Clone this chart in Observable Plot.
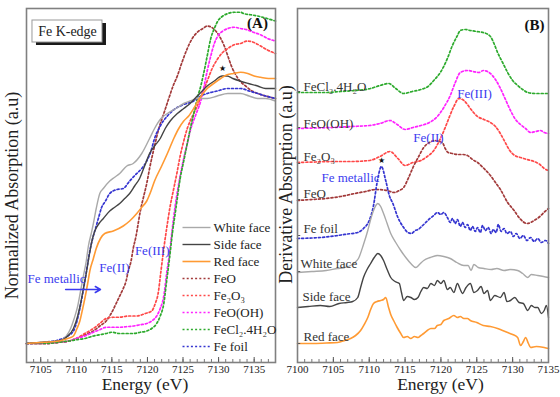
<!DOCTYPE html>
<html><head><meta charset="utf-8">
<script src="https://cdn.jsdelivr.net/npm/d3@7"></script>
<script src="https://cdn.jsdelivr.net/npm/@observablehq/plot@0.6"></script>
<style>
body{margin:0;background:#fff;}
#wrap{display:flex;width:560px;height:397px;}
#wrap svg{overflow:visible;}
#wrap svg, #wrap svg text, #wrap svg g{font-family:"Liberation Serif", "Times New Roman", serif !important;}
</style></head><body><div id="wrap"></div>
<script>
// ---------- Panel A : normalized XANES ----------
const whiteFaceA = [[7103.0,0.00],[7105.5,0.005],[7107.6,0.01],[7108.6,0.03],[7109.2,0.06],[7109.7,0.10],[7110.2,0.15],[7110.6,0.21],[7111.0,0.27],[7111.4,0.33],[7111.7,0.39],[7112.1,0.44],[7112.4,0.48],[7112.8,0.54],[7113.3,0.60],[7113.8,0.62],[7114.7,0.65],[7115.4,0.665],[7116.1,0.68],[7117.1,0.71],[7118.0,0.72],[7119.2,0.76],[7120.3,0.82],[7121.0,0.86],[7121.9,0.90],[7122.8,0.92],[7124.0,0.94],[7125.1,0.96],[7126.0,0.97],[7127.0,0.98],[7128.4,0.98],[7129.8,0.99],[7131.3,1.00],[7133.1,1.00],[7134.3,0.99],[7135.5,0.98],[7136.6,0.98],[7138.0,0.97]];
const sideFaceA = [[7103.0,0.00],[7105.5,0.005],[7107.6,0.01],[7108.8,0.03],[7109.6,0.06],[7110.2,0.11],[7110.6,0.16],[7111.0,0.22],[7111.4,0.28],[7111.8,0.35],[7112.2,0.41],[7112.6,0.45],[7113.2,0.48],[7113.8,0.50],[7114.7,0.53],[7115.4,0.545],[7116.1,0.56],[7116.8,0.58],[7117.5,0.60],[7118.2,0.63],[7118.9,0.66],[7119.6,0.71],[7120.3,0.76],[7121.0,0.79],[7121.8,0.82],[7122.5,0.86],[7123.2,0.89],[7124.2,0.92],[7125.1,0.94],[7126.0,0.96],[7127.0,0.99],[7127.7,1.01],[7128.4,1.03],[7129.4,1.05],[7130.5,1.07],[7131.2,1.07],[7132.0,1.06],[7133.0,1.05],[7134.2,1.04],[7135.5,1.03],[7136.6,1.02],[7138.0,1.02]];
const redFaceA = [[7103.0,0.00],[7105.5,0.005],[7107.6,0.01],[7108.8,0.02],[7109.6,0.03],[7110.1,0.06],[7110.5,0.09],[7110.9,0.14],[7111.2,0.18],[7111.6,0.24],[7111.9,0.29],[7112.4,0.34],[7112.8,0.38],[7113.4,0.42],[7114.0,0.44],[7115.2,0.45],[7116.6,0.47],[7117.5,0.49],[7118.5,0.52],[7119.2,0.545],[7119.9,0.57],[7120.5,0.61],[7121.0,0.65],[7122.0,0.71],[7122.8,0.76],[7123.7,0.82],[7124.4,0.86],[7125.1,0.89],[7125.8,0.91],[7126.5,0.94],[7127.3,0.98],[7128.4,1.02],[7129.3,1.04],[7130.3,1.06],[7131.2,1.075],[7132.1,1.08],[7133.1,1.085],[7134.1,1.08],[7135.0,1.07],[7135.9,1.065],[7137.0,1.06],[7138.0,1.06]];
const feoA = [[7103.0,0.00],[7105.5,0.00],[7107.6,0.005],[7109.0,0.01],[7110.0,0.02],[7111.2,0.035],[7112.4,0.05],[7113.3,0.07],[7114.2,0.09],[7114.9,0.12],[7115.6,0.16],[7116.1,0.19],[7116.6,0.22],[7117.0,0.25],[7117.3,0.29],[7117.7,0.33],[7118.0,0.38],[7118.4,0.43],[7118.7,0.48],[7119.0,0.53],[7119.4,0.58],[7119.9,0.64],[7120.3,0.70],[7121.0,0.79],[7121.6,0.86],[7122.3,0.92],[7123.0,0.98],[7123.6,1.03],[7124.2,1.07],[7124.8,1.12],[7125.6,1.18],[7126.3,1.22],[7127.0,1.245],[7127.8,1.26],[7128.4,1.27],[7129.0,1.265],[7129.6,1.25],[7130.3,1.22],[7130.8,1.19],[7131.3,1.15],[7131.8,1.11],[7132.3,1.08],[7133.0,1.05],[7133.8,1.03],[7134.7,1.01],[7135.5,1.00],[7136.6,0.99],[7138.0,0.98]];
const fe2o3A = [[7103.0,0.00],[7105.5,0.00],[7107.6,0.005],[7109.0,0.01],[7110.0,0.02],[7111.2,0.04],[7112.4,0.06],[7113.3,0.08],[7114.2,0.10],[7115.2,0.105],[7116.1,0.105],[7117.3,0.11],[7118.5,0.11],[7119.7,0.12],[7120.6,0.13],[7121.1,0.16],[7121.5,0.20],[7121.9,0.29],[7122.3,0.38],[7122.7,0.46],[7123.2,0.55],[7123.7,0.62],[7124.2,0.69],[7124.6,0.75],[7125.1,0.81],[7125.6,0.86],[7126.0,0.89],[7126.5,0.92],[7127.0,0.95],[7127.7,1.00],[7128.4,1.05],[7129.1,1.10],[7129.9,1.14],[7130.6,1.165],[7131.3,1.18],[7132.2,1.195],[7133.1,1.20],[7134.0,1.21],[7134.9,1.205],[7135.9,1.19],[7136.8,1.175],[7138.0,1.16]];
const feoohA = [[7103.0,0.00],[7105.5,0.00],[7107.6,0.005],[7109.0,0.01],[7110.0,0.02],[7111.2,0.03],[7112.4,0.045],[7113.3,0.055],[7114.2,0.065],[7115.2,0.065],[7116.1,0.065],[7117.0,0.067],[7118.0,0.07],[7119.0,0.075],[7119.9,0.08],[7120.6,0.09],[7121.3,0.11],[7121.8,0.14],[7122.3,0.19],[7122.7,0.28],[7123.1,0.36],[7123.5,0.46],[7123.9,0.55],[7124.6,0.67],[7125.1,0.74],[7125.6,0.80],[7126.1,0.86],[7126.6,0.90],[7127.0,0.93],[7127.5,0.97],[7127.9,1.02],[7128.4,1.09],[7128.9,1.15],[7129.4,1.20],[7129.9,1.23],[7130.6,1.25],[7131.3,1.26],[7132.2,1.265],[7133.1,1.26],[7134.0,1.255],[7134.9,1.245],[7135.9,1.235],[7136.9,1.22],[7138.0,1.21]];
const fecl2A = [[7103.0,0.00],[7105.5,0.00],[7107.6,0.005],[7109.0,0.01],[7110.0,0.015],[7111.2,0.02],[7112.4,0.03],[7113.3,0.035],[7114.2,0.04],[7115.0,0.045],[7116.1,0.04],[7117.0,0.04],[7118.0,0.04],[7119.0,0.045],[7119.9,0.05],[7120.6,0.06],[7121.3,0.08],[7121.8,0.11],[7122.3,0.16],[7122.7,0.25],[7123.1,0.34],[7123.5,0.44],[7124.0,0.54],[7124.6,0.66],[7125.1,0.73],[7125.6,0.80],[7126.1,0.87],[7126.6,0.93],[7127.0,0.98],[7127.5,1.03],[7127.9,1.08],[7128.4,1.15],[7128.9,1.22],[7129.4,1.26],[7129.9,1.29],[7130.6,1.31],[7131.3,1.32],[7132.2,1.325],[7133.1,1.325],[7133.5,1.32],[7134.5,1.315],[7135.5,1.31],[7136.8,1.30],[7138.0,1.29]];
const feFoilA = [[7103.0,0.00],[7105.5,0.005],[7107.6,0.015],[7108.8,0.03],[7109.6,0.05],[7110.1,0.09],[7110.5,0.14],[7110.9,0.20],[7111.2,0.25],[7111.6,0.32],[7111.9,0.37],[7112.3,0.42],[7112.7,0.46],[7113.2,0.51],[7113.5,0.54],[7114.1,0.57],[7114.7,0.60],[7115.6,0.615],[7116.6,0.62],[7117.5,0.65],[7118.5,0.68],[7119.2,0.70],[7119.9,0.73],[7120.5,0.77],[7121.0,0.82],[7121.8,0.87],[7122.8,0.91],[7123.7,0.935],[7125.0,0.955],[7126.5,0.97],[7127.5,0.99],[7128.4,1.00],[7129.8,1.01],[7131.3,1.02],[7133.1,1.02],[7134.3,1.01],[7135.5,1.00],[7136.6,0.99],[7138.0,0.98]];

// ---------- Panel B : first derivative (height above each trace's own baseline) ----------
const fecl2B = [[7100,-0.1],[7102,-0.1],[7104,-0.1],[7106,0.0],[7108,0.1],[7110.2,0.3],[7111.5,0.6],[7112.7,0.8],[7113.7,0.3],[7114.8,-0.2],[7116,0.0],[7117.2,0.2],[7118.2,0.5],[7119.0,1.1],[7120.0,2.0],[7120.9,3.3],[7121.6,4.6],[7122.3,5.6],[7122.7,6.1],[7123.4,6.2],[7124.1,6.1],[7125.0,6.0],[7125.9,5.9],[7126.9,5.5],[7127.4,4.8],[7127.9,3.9],[7128.6,2.9],[7129.3,1.9],[7130.0,1.1],[7130.7,0.6],[7131.4,0.2],[7132.1,-0.1],[7133.2,-0.2],[7134.3,-0.2],[7135,-0.2]];
const feoohB = [[7100,0],[7102.5,0.05],[7105,0.1],[7107.5,0.2],[7110,0.3],[7111.5,0.5],[7112.9,0.8],[7113.9,0.4],[7115.0,-0.1],[7116.1,0.1],[7117.2,0.3],[7118.4,0.6],[7119.5,1.2],[7120.4,2.1],[7121.3,3.3],[7122.0,4.6],[7122.7,5.6],[7123.7,5.8],[7124.5,5.7],[7125.3,5.6],[7125.9,5.8],[7126.9,5.5],[7127.6,4.9],[7128.3,4.0],[7129.0,2.9],[7129.7,1.8],[7130.4,0.9],[7131.1,0.4],[7131.8,0.0],[7132.5,-0.4],[7133.2,-0.3],[7133.9,-0.2],[7134.4,-0.4],[7135,-0.5]];
const fe2o3B = [[7100,0],[7102.5,0.05],[7105,0.1],[7107.5,0.1],[7110,0.2],[7111.5,0.6],[7112.9,1.1],[7114.0,0.4],[7115.0,-0.3],[7116.1,0.0],[7117.2,0.2],[7118.1,0.6],[7119.0,1.2],[7119.8,2.2],[7120.6,3.5],[7121.2,4.6],[7121.8,5.6],[7122.5,6.4],[7123.2,6.2],[7123.7,5.8],[7124.1,5.4],[7125.1,4.6],[7126.0,4.3],[7126.9,4.0],[7127.6,3.6],[7128.2,3.0],[7128.9,2.1],[7129.6,1.2],[7130.3,0.7],[7131.1,0.5],[7132.0,0.3],[7133.0,0.1],[7133.8,-0.2],[7134.4,-0.6],[7135,-0.8]];
const feoB = [[7100,0],[7102,0.1],[7104,0.2],[7106,0.4],[7108,0.7],[7109.5,0.9],[7110.9,1.1],[7112.5,1.0],[7113.5,0.8],[7114.2,1.0],[7114.8,1.3],[7115.5,2.3],[7116.1,3.3],[7116.9,4.4],[7117.6,5.3],[7118.4,5.8],[7119.2,6.0],[7119.7,5.9],[7120.2,5.8],[7120.6,5.2],[7121.0,4.8],[7121.6,4.7],[7122.3,4.6],[7123.0,4.6],[7123.7,4.5],[7124.4,4.1],[7125.1,3.8],[7126.0,3.2],[7126.9,2.5],[7127.6,1.8],[7128.3,1.1],[7129.3,-0.2],[7130.2,-1.0],[7131.0,-1.8],[7132.0,-2.3],[7133.0,-2.0],[7133.8,-1.6],[7134.5,-1.1],[7135,-0.8]];
const feFoilB = [[7100,0],[7102,0.05],[7104,0.15],[7105.6,0.3],[7107,0.45],[7108.4,0.6],[7109.2,1.0],[7110.0,1.8],[7110.6,3.3],[7111.1,5.6],[7111.7,7.2],[7112.3,5.8],[7112.8,4.3],[7113.3,3.5],[7114.0,2.1],[7114.8,1.1],[7115.4,0.6],[7115.9,0.5],[7116.4,0.8],[7116.8,0.9],[7117.6,1.4],[7118.3,1.9],[7119.0,2.3],[7119.5,2.6],[7120.0,2.4],[7120.4,2.6],[7120.9,2.1],[7121.3,1.6],[7121.6,2.0],[7122.0,1.5],[7122.3,1.9],[7122.7,1.2],[7123.0,1.6],[7123.4,1.1],[7123.7,1.4],[7124.1,0.8],[7124.4,1.2],[7124.8,0.7],[7125.1,1.1],[7125.5,0.6],[7125.8,1.3],[7126.2,0.8],[7126.6,1.1],[7127.0,0.5],[7127.3,0.9],[7127.7,0.6],[7128.0,1.4],[7128.4,0.7],[7128.8,1.0],[7129.2,0.5],[7129.7,0.7],[7130.1,0.2],[7130.5,0.5],[7131.0,0.0],[7131.5,0.3],[7132.0,-0.2],[7132.5,0.1],[7133.0,-0.3],[7133.5,0.0],[7134.0,-0.4],[7134.6,-0.2],[7135,-0.5]];
const whiteFaceB = [[7100,0],[7102,0.1],[7104,0.2],[7105.6,0.4],[7106.6,0.5],[7107.4,0.7],[7108.0,1.0],[7108.5,1.4],[7109.2,2.8],[7109.8,4.2],[7110.2,5.3],[7110.6,6.2],[7111.2,6.9],[7111.6,6.6],[7112.0,5.9],[7112.5,4.9],[7113.0,3.9],[7113.7,3.0],[7114.4,2.2],[7115.1,1.5],[7115.8,0.9],[7116.5,0.5],[7117.0,0.8],[7117.6,1.2],[7118.5,1.5],[7119.5,1.7],[7120.4,1.6],[7121.3,1.4],[7122.2,1.0],[7123.2,0.7],[7123.8,0.7],[7124.2,0.2],[7124.6,0.8],[7125.2,0.5],[7126.0,0.4],[7127.0,0.3],[7127.8,0.4],[7128.8,0.2],[7129.7,0.3],[7130.7,0.2],[7131.4,-0.1],[7132.1,-0.5],[7132.6,-0.2],[7133.5,-0.3],[7134.3,-0.4],[7135,-0.5]];
const sideFaceB = [[7100,0],[7101.5,0.1],[7103.2,0.2],[7104.5,0.1],[7105.8,0.4],[7106.9,0.5],[7107.7,0.6],[7108.4,1.0],[7108.8,2.0],[7109.2,3.0],[7109.7,3.8],[7110.2,4.4],[7110.7,5.0],[7111.2,5.4],[7111.6,5.2],[7112.0,4.7],[7112.5,3.8],[7113.0,3.0],[7113.6,2.6],[7114.2,2.4],[7114.5,1.5],[7114.8,0.7],[7115.3,1.1],[7115.8,1.0],[7116.3,0.8],[7116.8,1.0],[7117.2,1.6],[7117.6,2.0],[7118.1,1.9],[7118.6,2.4],[7119.1,2.2],[7119.5,2.7],[7120.0,2.4],[7120.4,2.7],[7120.9,1.8],[7121.3,2.0],[7121.8,1.5],[7122.3,2.4],[7122.7,1.8],[7123.0,1.4],[7123.5,2.0],[7124.1,2.4],[7124.6,1.5],[7125.1,1.7],[7125.6,2.1],[7126.0,1.4],[7126.5,1.7],[7126.9,0.7],[7127.5,1.2],[7128.3,1.0],[7128.8,1.5],[7129.2,0.6],[7129.7,0.7],[7130.3,1.0],[7130.9,0.5],[7131.5,0.4],[7132.1,-0.3],[7132.6,0.2],[7133.1,0.0],[7133.5,0.0],[7134.0,-0.6],[7134.4,-0.3],[7134.7,0.2],[7135,-1.0]];
const redFaceB = [[7100,0],[7102,0.0],[7104,0.05],[7105.6,0.1],[7106.6,0.3],[7107.4,0.5],[7108.1,0.8],[7108.8,1.3],[7109.3,1.9],[7109.8,2.6],[7110.2,3.4],[7110.6,4.0],[7111.1,4.2],[7111.6,4.3],[7112.0,4.4],[7112.3,4.6],[7112.7,3.6],[7113.0,2.9],[7113.4,2.3],[7113.9,1.6],[7114.4,1.0],[7114.8,0.6],[7115.3,0.7],[7115.8,0.5],[7116.3,0.7],[7116.8,0.6],[7117.2,0.8],[7117.6,1.0],[7118.1,1.3],[7118.6,1.5],[7119.1,1.5],[7119.5,1.8],[7120.0,1.9],[7120.4,2.3],[7121.1,2.5],[7121.8,2.8],[7122.3,2.6],[7122.7,2.7],[7123.2,2.5],[7123.7,2.5],[7124.1,2.3],[7125.0,2.1],[7125.9,1.8],[7126.9,1.7],[7127.9,1.5],[7128.6,1.3],[7129.3,1.1],[7130.0,0.9],[7130.7,0.6],[7131.1,-0.2],[7131.5,0.2],[7131.8,0.6],[7132.2,0.0],[7132.5,-0.4],[7133.3,-0.3],[7134.4,-0.4],[7135,-0.5]];

// vertical offsets of the stacked derivative traces (FeCl2, FeO(OH), Fe2O3, FeO, Fe foil, White, Side, Red)
const offsetsB = [27.1, 23.4, 20.0, 16.2, 12.4, 9.0, 5.5, 1.9];

const legendLabels = ["White face", "Side face", "Red face", "FeO", "Fe₂O₃", "FeO(OH)", "FeCl₂.4H₂O", "Fe foil"];
const labelsB = ["FeCl₂.4H₂O", "FeO(OH)", "Fe₂O₃", "FeO", "Fe foil", "White face", "Side face", "Red face"];
const ticksA = [7105, 7110, 7115, 7120, 7125, 7130, 7135];
const ticksB = [7100, 7105, 7110, 7115, 7120, 7125, 7130, 7135];

// ---------- styling ----------
const FONT = "Liberation Serif";
const BLUE = "#3b3bef";
const DOT = "2,2.2";
const styleA = [
  {stroke: "#a9a9a9", w: 1.4, dash: null},
  {stroke: "#444444", w: 1.4, dash: null},
  {stroke: "#ff9a33", w: 1.6, dash: null},
  {stroke: "#a23a3a", w: 1.7, dash: DOT},
  {stroke: "#ff4848", w: 1.7, dash: DOT},
  {stroke: "#ff22ff", w: 1.7, dash: DOT},
  {stroke: "#2daa2d", w: 1.7, dash: DOT},
  {stroke: "#3434d0", w: 1.7, dash: DOT}
];
const dataA = [whiteFaceA, sideFaceA, redFaceA, feoA, fe2o3A, feoohA, fecl2A, feFoilA];
const dataB = [fecl2B, feoohB, fe2o3B, feoB, feFoilB, whiteFaceB, sideFaceB, redFaceB];
const styleB = [styleA[6], styleA[5], styleA[4], styleA[3], styleA[7], styleA[0], styleA[1], styleA[2]];

function lineMark(data, st, off = 0) {
  return Plot.line(data, {x: d => d[0], y: d => d[1] + off, stroke: st.stroke, strokeWidth: st.w,
    strokeDasharray: st.dash, curve: "monotone-x"});
}
const txt = (data, opts) => Plot.text(data, {fontFamily: FONT, ...opts});

// ---------- Panel A ----------
const yA = [-0.076, 1.34];
const tickLenA = (yA[1] - yA[0]) / 354;
const minorA = d3.range(7104, 7138);
const legendY = legendLabels.map((_, i) => 0.464 - i * 0.068);

const order = [3, 4, 5, 6, 7, 0, 1, 2];
const plotA = Plot.plot({
  width: 278, height: 397,
  marginLeft: 26, marginRight: 3, marginTop: 8, marginBottom: 35,
  style: {fontFamily: FONT, fontSize: "11px", color: "#222", background: "white"},
  x: {domain: [7103, 7138], ticks: ticksA, tickFormat: "d", tickSize: 0, tickPadding: 3, label: null},
  y: {domain: yA, axis: null},
  marks: [
    ...order.map(i => lineMark(dataA[i], styleA[i])),
    Plot.ruleX(minorA, {x: d => d, y1: yA[0], y2: yA[0] + 3 * tickLenA, stroke: "#555", strokeWidth: 0.8}),
    Plot.ruleX(ticksA, {x: d => d, y1: yA[0], y2: yA[0] + 5 * tickLenA, stroke: "#555", strokeWidth: 1}),
    Plot.frame({stroke: "#808080", strokeWidth: 1.6}),
    // Fe K-edge box
    Plot.rect([0], {x1: 7103.84, x2: 7113.68, y1: 1.204, y2: 1.292, fill: "#1a1a1a", dx: 4, dy: 3}),
    Plot.rect([0], {x1: 7103.84, x2: 7113.68, y1: 1.204, y2: 1.292, fill: "white", stroke: "#999", strokeWidth: 1}),
    txt(["Fe K-edge"], {x: 7108.76, y: 1.248, fontSize: 14, fill: "#222"}),
    txt(["(A)"], {x: 7135.47, y: 1.28, fontSize: 15, fontWeight: "bold", fill: "#111"}),
    txt(["★"], {x: 7130.55, y: 1.10, fontSize: 8, fill: "#111"}),
    txt(["Fe metallic"], {x: 7103.14, y: 0.26, textAnchor: "start", fontSize: 13, fill: BLUE}),
    Plot.arrow([0], {x1: 7108.5, y1: 0.216, x2: 7113.4, y2: 0.216, stroke: BLUE, strokeWidth: 1.5, headLength: 6}),
    txt(["Fe(II)"], {x: 7115.37, y: 0.304, fontSize: 13, fill: BLUE}),
    txt(["Fe(III)"], {x: 7120.67, y: 0.372, fontSize: 13, fill: BLUE}),
    // legend
    ...legendLabels.map((lab, i) => Plot.link([0], {x1: 7124.93, x2: 7128.86, y1: legendY[i], y2: legendY[i],
      stroke: styleA[i].stroke, strokeWidth: styleA[i].w, strokeDasharray: styleA[i].dash})),
    txt(legendLabels, {x: 7129.29, y: (d, i) => legendY[i], textAnchor: "start", fontSize: 13, fill: "#222"}),
    // axis titles
    txt(["Normalized Absorption (a.u)"], {frameAnchor: "left", textAnchor: "middle", lineAnchor: "middle", rotate: -90, dx: -14, dy: 10, fontSize: 18, fill: "#222"}),
    txt(["Energy (eV)"], {frameAnchor: "bottom", textAnchor: "middle", lineAnchor: "middle", dy: 22, dx: -6, fontSize: 17.5, fill: "#222"})
  ]
});

// ---------- Panel B ----------
const yB = [0, 35.4];
const minorB = d3.range(7101, 7135);
const yTicksB = [1.9, 5.5, 9.1, 12.7, 16.3, 19.9, 23.5, 27.1];
const labelYB = [27.6, 23.9, 20.6, 16.9, 13.4, 9.9, 6.6, 2.6];
const labelXB = [7100.84, 7100.84, 7100.84, 7100.84, 7100.84, 7100.42, 7100.7, 7100.84];
const plotB = Plot.plot({
  width: 282, height: 397,
  marginLeft: 19, marginRight: 12, marginTop: 8, marginBottom: 35,
  style: {fontFamily: FONT, fontSize: "11px", color: "#222", background: "white"},
  x: {domain: [7100, 7135], ticks: ticksB, tickFormat: "d", tickSize: 0, tickPadding: 3, label: null},
  y: {domain: yB, axis: null},
  marks: [
    ...dataB.map((d, i) => lineMark(d, styleB[i], offsetsB[i])),
    Plot.ruleX(minorB, {x: d => d, y1: 0, y2: 0.3, stroke: "#555", strokeWidth: 0.8}),
    Plot.ruleX(ticksB, {x: d => d, y1: 0, y2: 0.5, stroke: "#555", strokeWidth: 1}),
    Plot.ruleY(yTicksB, {y: d => d, x1: 7100, x2: 7100.45, stroke: "#555", strokeWidth: 1}),
    Plot.frame({stroke: "#808080", strokeWidth: 1.6}),
    txt(labelsB, {x: (d, i) => labelXB[i], y: (d, i) => labelYB[i], textAnchor: "start", fontSize: 13, fill: "#333"}),
    txt(["Fe metallic"], {x: 7107.39, y: 18.5, fontSize: 13, fill: BLUE}),
    txt(["★"], {x: 7111.71, y: 20.2, fontSize: 8, fill: "#111"}),
    txt(["Fe(II)"], {x: 7118.27, y: 22.5, fontSize: 13, fill: BLUE}),
    txt(["Fe(III)"], {x: 7124.68, y: 26.9, fontSize: 13, fill: BLUE}),
    txt(["(B)"], {x: 7133.05, y: 33.7, fontSize: 15, fontWeight: "bold", fill: "#111"}),
    txt(["Derivative Absorption (a.u)"], {frameAnchor: "left", textAnchor: "middle", lineAnchor: "middle", rotate: -90, dx: -11, dy: -1, fontSize: 18, fill: "#222"}),
    txt(["Energy (eV)"], {frameAnchor: "bottom", textAnchor: "middle", lineAnchor: "middle", dy: 22, dx: 17.5, fontSize: 17.5, fill: "#222"})
  ]
});

const wrap = document.getElementById("wrap");
wrap.appendChild(plotA);
wrap.appendChild(plotB);
</script></body></html>
